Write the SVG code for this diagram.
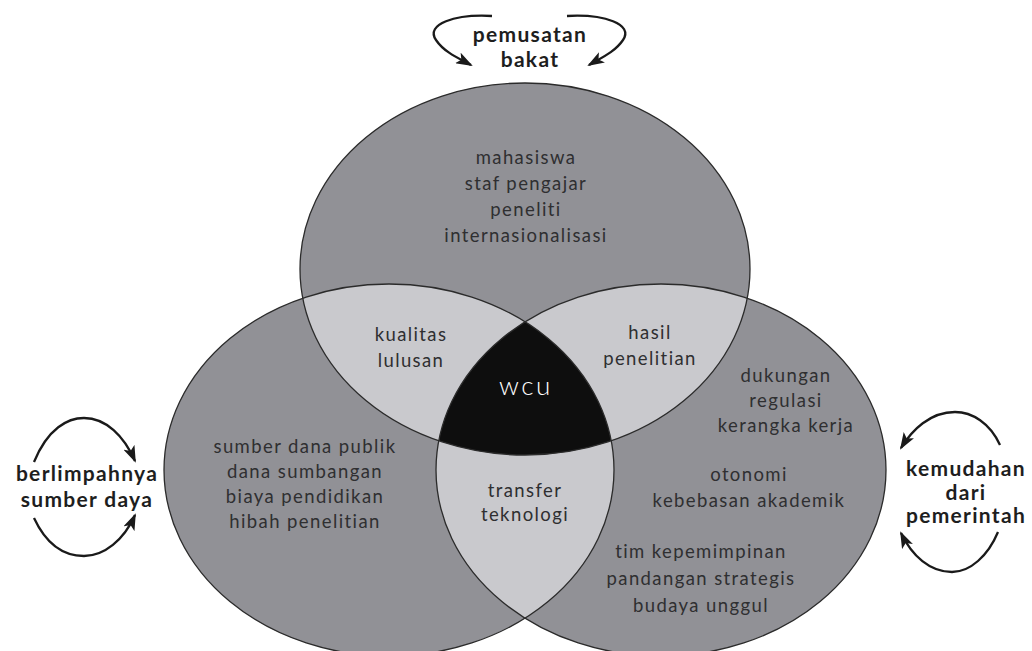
<svg xmlns="http://www.w3.org/2000/svg" xmlns:xlink="http://www.w3.org/1999/xlink" width="1032" height="651" viewBox="0 0 1032 651">
<style>
.dark{fill:#919196}
.light{fill:#c9c9cd}
.core{fill:#0e0e0e}
.edge{fill:none;stroke:#2b2b2b;stroke-width:1.3}
.t{font-family:Lato,"Open Sans","Liberation Sans",sans-serif;font-size:18.5px;letter-spacing:1.4px;fill:#2f2f31;text-anchor:middle}
.w{font-family:Lato,"Open Sans","Liberation Sans",sans-serif;font-size:26px;font-weight:300;letter-spacing:2.5px;fill:#ffffff;text-anchor:middle}
.b{font-family:Lato,"Open Sans","Liberation Sans",sans-serif;font-size:21px;font-weight:bold;letter-spacing:1.3px;fill:#1e1e1e;text-anchor:middle}
.arr{fill:none;stroke:#1a1a1a;stroke-width:2.3;marker-end:url(#head)}
</style>
<defs>
<ellipse id="eT" cx="525" cy="269" rx="225" ry="186"/>
<ellipse id="eL" cx="389" cy="470" rx="225" ry="186"/>
<ellipse id="eR" cx="661" cy="470" rx="225" ry="186"/>
<clipPath id="cT"><use xlink:href="#eT"/></clipPath>
<clipPath id="cL"><use xlink:href="#eL"/></clipPath>
<marker id="head" viewBox="0 0 17 12" refX="15" refY="6" markerWidth="17" markerHeight="12" markerUnits="userSpaceOnUse" orient="auto">
<path d="M0,0 L17,6 L0,12 L4,6 Z" fill="#1a1a1a"/>
</marker>
</defs>
<rect width="1032" height="651" fill="#ffffff"/>
<g id="venn-shapes">
<use xlink:href="#eL" class="dark"/>
<use xlink:href="#eR" class="dark"/>
<use xlink:href="#eT" class="dark"/>
<g clip-path="url(#cT)">
<use xlink:href="#eL" class="light"/>
<use xlink:href="#eR" class="light"/>
</g>
<g clip-path="url(#cL)">
<use xlink:href="#eR" class="light"/>
</g>
<g clip-path="url(#cT)"><g clip-path="url(#cL)"><use xlink:href="#eR" class="core"/></g></g>
<use xlink:href="#eT" class="edge"/>
<use xlink:href="#eL" class="edge"/>
<use xlink:href="#eR" class="edge"/>
</g>
<g id="node-talent">
<text class="t" x="526" y="164">mahasiswa</text>
<text class="t" x="526" y="190">staf pengajar</text>
<text class="t" x="526" y="216">peneliti</text>
<text class="t" x="526" y="242">internasionalisasi</text>
</g>
<g id="node-resources">
<text class="t" x="305" y="453">sumber dana publik</text>
<text class="t" x="305" y="478">dana sumbangan</text>
<text class="t" x="305" y="503">biaya pendidikan</text>
<text class="t" x="305" y="528">hibah penelitian</text>
</g>
<g id="node-governance">
<text class="t" x="786" y="382">dukungan</text>
<text class="t" x="786" y="407">regulasi</text>
<text class="t" x="786" y="432">kerangka kerja</text>
<text class="t" x="749" y="481">otonomi</text>
<text class="t" x="749" y="507">kebebasan akademik</text>
<text class="t" x="701" y="558">tim kepemimpinan</text>
<text class="t" x="701" y="585">pandangan strategis</text>
<text class="t" x="701" y="612">budaya unggul</text>
</g>
<g id="node-graduates">
<text class="t" x="411" y="341">kualitas</text>
<text class="t" x="411" y="367">lulusan</text>
</g>
<g id="node-research">
<text class="t" x="650" y="339">hasil</text>
<text class="t" x="650" y="365">penelitian</text>
</g>
<g id="node-transfer">
<text class="t" x="525" y="497">transfer</text>
<text class="t" x="525" y="521">teknologi</text>
</g>
<g id="node-wcu">
<text class="w" x="526" y="395">wcu</text>
</g>
<g id="label-talent">
<text class="b" x="530" y="42">pemusatan</text>
<text class="b" x="530" y="67">bakat</text>
</g>
<g id="label-resources">
<text class="b" x="87" y="481">berlimpahnya</text>
<text class="b" x="87" y="507">sumber daya</text>
</g>
<g id="label-government">
<text class="b" x="966" y="476">kemudahan</text>
<text class="b" x="966" y="500">dari</text>
<text class="b" x="966" y="523">pemerintah</text>
</g>
<g id="connectors">
<path class="arr" d="M492,16 C455,14 425,24 436,40 C444,52 458,58 471,65"/>
<path class="arr" d="M567,16 C604,14 634,24 623,40 C615,52 601,58 589,65"/>
<path class="arr" d="M34,462 C48,428 68,418 84,418 C106,418 124,436 135,461"/>
<path class="arr" d="M34,518 C48,548 66,556 84,556 C104,556 124,540 135,515"/>
<path class="arr" d="M1000,445 C990,423 972,412 955,412 C930,412 912,430 901,448"/>
<path class="arr" d="M998,532 C988,556 970,572 952,572 C930,572 912,556 901,533"/>
</g>
</svg>
